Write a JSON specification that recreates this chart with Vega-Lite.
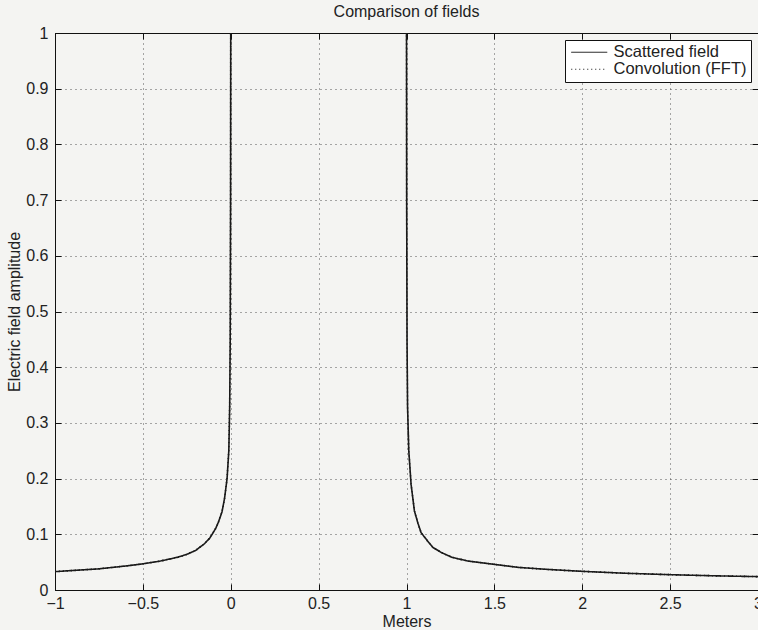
{
  "$schema": "https://vega.github.io/schema/vega-lite/v6.json",
  "width": 703,
  "height": 557,
  "autosize": {"type": "none"},
  "padding": {"left": 55, "top": 33, "right": 0, "bottom": 40},
  "background": "#f4f4f2",
  "title": {"text": "Comparison of fields", "fontSize": 16, "fontWeight": "normal", "font": "Liberation Sans", "color": "#222", "offset": 5},
  "config": {
    "view": {"stroke": "#111", "strokeWidth": 1},
    "font": "Liberation Sans",
    "axis": {
      "domainColor": "#111", "tickColor": "#111", "tickSize": -6, "labelFlush": false,
      "labelFont": "Liberation Sans", "labelFontSize": 16, "labelColor": "#222",
      "titleFont": "Liberation Sans", "titleFontSize": 16, "titleFontWeight": "normal", "titleColor": "#222",
      "gridColor": "#444", "gridDash": [1, 4], "gridOpacity": 0.9
    },
    "legend": {"labelFont": "Liberation Sans"}
  },
  "datasets": {
    "fields": [
      {"x": -1, "y": 0.033, "series": "Scattered field"},
      {"x": -0.9, "y": 0.035, "series": "Scattered field"},
      {"x": -0.75, "y": 0.038, "series": "Scattered field"},
      {"x": -0.6, "y": 0.043, "series": "Scattered field"},
      {"x": -0.5, "y": 0.047, "series": "Scattered field"},
      {"x": -0.4, "y": 0.052, "series": "Scattered field"},
      {"x": -0.3, "y": 0.059, "series": "Scattered field"},
      {"x": -0.25, "y": 0.064, "series": "Scattered field"},
      {"x": -0.2, "y": 0.071, "series": "Scattered field"},
      {"x": -0.15, "y": 0.083, "series": "Scattered field"},
      {"x": -0.12, "y": 0.093, "series": "Scattered field"},
      {"x": -0.1, "y": 0.103, "series": "Scattered field"},
      {"x": -0.085, "y": 0.111, "series": "Scattered field"},
      {"x": -0.07, "y": 0.122, "series": "Scattered field"},
      {"x": -0.05, "y": 0.14, "series": "Scattered field"},
      {"x": -0.035, "y": 0.165, "series": "Scattered field"},
      {"x": -0.021, "y": 0.2, "series": "Scattered field"},
      {"x": -0.011, "y": 0.25, "series": "Scattered field"},
      {"x": -0.006, "y": 0.33, "series": "Scattered field"},
      {"x": -0.003, "y": 0.45, "series": "Scattered field"},
      {"x": -0.001, "y": 0.7, "series": "Scattered field"},
      {"x": 0, "y": 1.05, "series": "Scattered field"},
      {"x": 1, "y": 1.05, "series": "Scattered field"},
      {"x": 1.001, "y": 0.7, "series": "Scattered field"},
      {"x": 1.003, "y": 0.45, "series": "Scattered field"},
      {"x": 1.006, "y": 0.33, "series": "Scattered field"},
      {"x": 1.013, "y": 0.25, "series": "Scattered field"},
      {"x": 1.026, "y": 0.19, "series": "Scattered field"},
      {"x": 1.045, "y": 0.142, "series": "Scattered field"},
      {"x": 1.065, "y": 0.12, "series": "Scattered field"},
      {"x": 1.083, "y": 0.103, "series": "Scattered field"},
      {"x": 1.1, "y": 0.096, "series": "Scattered field"},
      {"x": 1.12, "y": 0.088, "series": "Scattered field"},
      {"x": 1.15, "y": 0.0765, "series": "Scattered field"},
      {"x": 1.2, "y": 0.067, "series": "Scattered field"},
      {"x": 1.26, "y": 0.0585, "series": "Scattered field"},
      {"x": 1.35, "y": 0.052, "series": "Scattered field"},
      {"x": 1.5, "y": 0.046, "series": "Scattered field"},
      {"x": 1.64, "y": 0.0405, "series": "Scattered field"},
      {"x": 1.8, "y": 0.037, "series": "Scattered field"},
      {"x": 2, "y": 0.0335, "series": "Scattered field"},
      {"x": 2.25, "y": 0.03, "series": "Scattered field"},
      {"x": 2.5, "y": 0.0275, "series": "Scattered field"},
      {"x": 2.75, "y": 0.0255, "series": "Scattered field"},
      {"x": 3, "y": 0.024, "series": "Scattered field"},
      {"x": -1, "y": 0.033, "series": "Convolution (FFT)"},
      {"x": -0.9, "y": 0.035, "series": "Convolution (FFT)"},
      {"x": -0.75, "y": 0.038, "series": "Convolution (FFT)"},
      {"x": -0.6, "y": 0.043, "series": "Convolution (FFT)"},
      {"x": -0.5, "y": 0.047, "series": "Convolution (FFT)"},
      {"x": -0.4, "y": 0.052, "series": "Convolution (FFT)"},
      {"x": -0.3, "y": 0.059, "series": "Convolution (FFT)"},
      {"x": -0.25, "y": 0.064, "series": "Convolution (FFT)"},
      {"x": -0.2, "y": 0.071, "series": "Convolution (FFT)"},
      {"x": -0.15, "y": 0.083, "series": "Convolution (FFT)"},
      {"x": -0.12, "y": 0.093, "series": "Convolution (FFT)"},
      {"x": -0.1, "y": 0.103, "series": "Convolution (FFT)"},
      {"x": -0.085, "y": 0.111, "series": "Convolution (FFT)"},
      {"x": -0.07, "y": 0.122, "series": "Convolution (FFT)"},
      {"x": -0.05, "y": 0.14, "series": "Convolution (FFT)"},
      {"x": -0.035, "y": 0.165, "series": "Convolution (FFT)"},
      {"x": -0.021, "y": 0.2, "series": "Convolution (FFT)"},
      {"x": -0.011, "y": 0.25, "series": "Convolution (FFT)"},
      {"x": -0.006, "y": 0.33, "series": "Convolution (FFT)"},
      {"x": -0.003, "y": 0.45, "series": "Convolution (FFT)"},
      {"x": -0.001, "y": 0.7, "series": "Convolution (FFT)"},
      {"x": 0, "y": 1.05, "series": "Convolution (FFT)"},
      {"x": 1, "y": 1.05, "series": "Convolution (FFT)"},
      {"x": 1.001, "y": 0.7, "series": "Convolution (FFT)"},
      {"x": 1.003, "y": 0.45, "series": "Convolution (FFT)"},
      {"x": 1.006, "y": 0.33, "series": "Convolution (FFT)"},
      {"x": 1.013, "y": 0.25, "series": "Convolution (FFT)"},
      {"x": 1.026, "y": 0.19, "series": "Convolution (FFT)"},
      {"x": 1.045, "y": 0.142, "series": "Convolution (FFT)"},
      {"x": 1.065, "y": 0.12, "series": "Convolution (FFT)"},
      {"x": 1.083, "y": 0.103, "series": "Convolution (FFT)"},
      {"x": 1.1, "y": 0.096, "series": "Convolution (FFT)"},
      {"x": 1.12, "y": 0.088, "series": "Convolution (FFT)"},
      {"x": 1.15, "y": 0.0765, "series": "Convolution (FFT)"},
      {"x": 1.2, "y": 0.067, "series": "Convolution (FFT)"},
      {"x": 1.26, "y": 0.0585, "series": "Convolution (FFT)"},
      {"x": 1.35, "y": 0.052, "series": "Convolution (FFT)"},
      {"x": 1.5, "y": 0.046, "series": "Convolution (FFT)"},
      {"x": 1.64, "y": 0.0405, "series": "Convolution (FFT)"},
      {"x": 1.8, "y": 0.037, "series": "Convolution (FFT)"},
      {"x": 2, "y": 0.0335, "series": "Convolution (FFT)"},
      {"x": 2.25, "y": 0.03, "series": "Convolution (FFT)"},
      {"x": 2.5, "y": 0.0275, "series": "Convolution (FFT)"},
      {"x": 2.75, "y": 0.0255, "series": "Convolution (FFT)"},
      {"x": 3, "y": 0.024, "series": "Convolution (FFT)"}
    ]
  },
  "data": {"name": "fields"},
  "layer": [
    {
      "mark": {"type": "line", "clip": true, "color": "#1a1a1a", "strokeWidth": 1.6, "interpolate": "linear"},
      "encoding": {
        "x": {"field": "x", "type": "quantitative", "scale": {"domain": [-1, 3], "nice": false, "zero": false},
              "axis": {"title": "Meters", "values": [-1, -0.5, 0, 0.5, 1, 1.5, 2, 2.5, 3], "format": "~g", "grid": true, "titlePadding": 2, "labelPadding": 11}},
        "y": {"field": "y", "type": "quantitative", "scale": {"domain": [0, 1], "nice": false},
              "axis": {"title": "Electric field amplitude", "values": [0, 0.1, 0.2, 0.3, 0.4, 0.5, 0.6, 0.7, 0.8, 0.9, 1], "format": "~g", "grid": true, "titlePadding": 3, "labelPadding": 13}},
        "strokeDash": {"field": "series", "type": "nominal",
                       "scale": {"domain": ["Scattered field", "Convolution (FFT)"], "range": [[1, 0], [1, 3]]},
                       "legend": {"title": null, "orient": "top-right", "offset": 7, "strokeColor": "#111", "fillColor": "#ffffff",
                                  "padding": 4, "symbolType": "M-3,0L3,0", "symbolSize": 144, "symbolStrokeWidth": 1,
                                  "symbolFillColor": "transparent", "symbolOffset": 12,
                                  "symbolStrokeColor": "#111", "labelFontSize": 16.5, "labelColor": "#222", "rowPadding": 0, "labelOffset": 16, "cornerRadius": 0}},
        "detail": {"field": "series"}
      }
    },
    {
      "mark": {"type": "line", "opacity": 0, "clip": true},
      "encoding": {
        "x": {"field": "x", "type": "quantitative", "scale": {"domain": [-1, 3], "nice": false, "zero": false},
              "axis": {"orient": "top", "title": null, "labels": false, "grid": false, "values": [-1, -0.5, 0, 0.5, 1, 1.5, 2, 2.5, 3]}},
        "y": {"field": "y", "type": "quantitative", "scale": {"domain": [0, 1], "nice": false},
              "axis": {"orient": "right", "title": null, "labels": false, "grid": false, "values": [0, 0.1, 0.2, 0.3, 0.4, 0.5, 0.6, 0.7, 0.8, 0.9, 1]}},
        "detail": {"field": "series"}
      }
    }
  ],
  "resolve": {"axis": {"x": "independent", "y": "independent"}}
}
